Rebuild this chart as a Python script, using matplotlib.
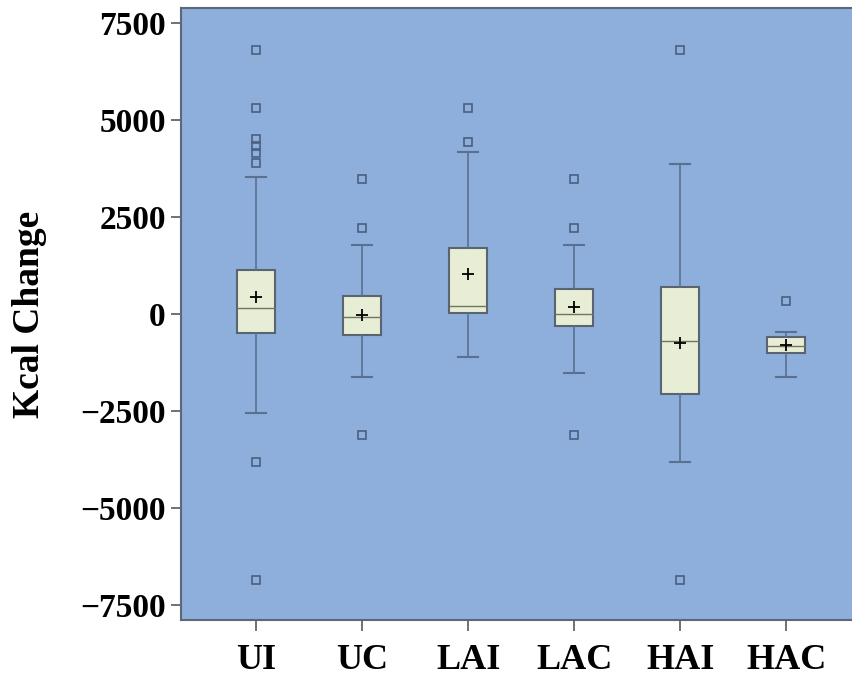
import matplotlib
matplotlib.use("Agg")
import matplotlib.pyplot as plt
from matplotlib.ticker import FixedLocator, FuncFormatter

# ---- data ----
groups = ["UI", "UC", "LAI", "LAC", "HAI", "HAC"]
q1 = [-500, -540, 20, -300, -2060, -1000]
medians = [150, -85, 210, 0, -690, -815]
q3 = [1130, 470, 1690, 635, 700, -585]
whisker_low = [-2560, -1615, -1115, -1530, -3820, -1615]
whisker_high = [3535, 1775, 4165, 1775, 3860, -470]
means = [430, -25, 1020, 170, -740, -800]
outliers_UI = [6800, 5300, 4500, 4330, 4150, 3900, -3820, -6850]
outliers_UC = [3475, 2205, -3115]
outliers_LAI = [5300, 4440]
outliers_LAC = [3475, 2205, -3115]
outliers_HAI = [6800, -6850]
outliers_HAC = [340]
yticks = [-7500, -5000, -2500, 0, 2500, 5000, 7500]

outliers = [outliers_UI, outliers_UC, outliers_LAI, outliers_LAC, outliers_HAI, outliers_HAC]

stats = []
for i, g in enumerate(groups):
    stats.append(dict(label=g, q1=q1[i], med=medians[i], q3=q3[i],
                      whislo=whisker_low[i], whishi=whisker_high[i],
                      mean=means[i], fliers=outliers[i]))

BG = "#8eaedb"
BOXFACE = "#e8edd5"
EDGE = "#59646f"
WHISK = "#5a7090"
FLIER = "#4b5f7f"

fig = plt.figure(figsize=(8.52, 6.79), dpi=100)
ax = fig.add_axes([181 / 852, 59 / 679, 1 - 181 / 852, (620 - 8) / 679])
ax.set_facecolor(BG)

ax.bxp(stats, positions=range(len(groups)), widths=0.36, capwidths=0.19,
       showmeans=True, showfliers=True, patch_artist=True,
       boxprops=dict(facecolor=BOXFACE, edgecolor=EDGE, linewidth=1.5),
       whiskerprops=dict(color=WHISK, linewidth=1.2),
       capprops=dict(color=WHISK, linewidth=1.5),
       medianprops=dict(color="#707460", linewidth=1.0),
       meanprops=dict(marker="+", markeredgecolor="black", markersize=9,
                      markeredgewidth=1.3),
       flierprops=dict(marker="s", markerfacecolor="none", markeredgecolor=FLIER,
                       markersize=6, markeredgewidth=1.2))

ax.set_xlim(-0.71, 5.62)
ax.set_ylim(-7880, 7880)

serif = ["Liberation Serif", "DejaVu Serif"]
ax.yaxis.set_major_locator(FixedLocator(yticks))
ax.yaxis.set_major_formatter(FuncFormatter(
    lambda v, p: ("\u2212" + f"{int(abs(v))}") if v < 0 else f"{int(v)}"))
ax.set_xticks(range(len(groups)))
ax.set_xticklabels(groups)

for lab in ax.get_yticklabels():
    lab.set_fontfamily(serif)
    lab.set_fontweight("bold")
    lab.set_fontsize(24)
for lab in ax.get_xticklabels():
    lab.set_fontfamily(serif)
    lab.set_fontweight("bold")
    lab.set_fontsize(26)

ax.tick_params(axis="y", direction="out", length=7, width=1.3, color="#666666", pad=4)
ax.tick_params(axis="x", direction="out", length=8, width=1.3, color="#666666", pad=9)

ax.set_ylabel("Kcal Change", fontfamily=serif, fontweight="bold", fontsize=27, labelpad=24)

for side in ["left", "bottom", "top"]:
    ax.spines[side].set_color("#5c6878")
    ax.spines[side].set_linewidth(1.5)
ax.spines["right"].set_visible(False)

fig.savefig("out.png", dpi=100)
